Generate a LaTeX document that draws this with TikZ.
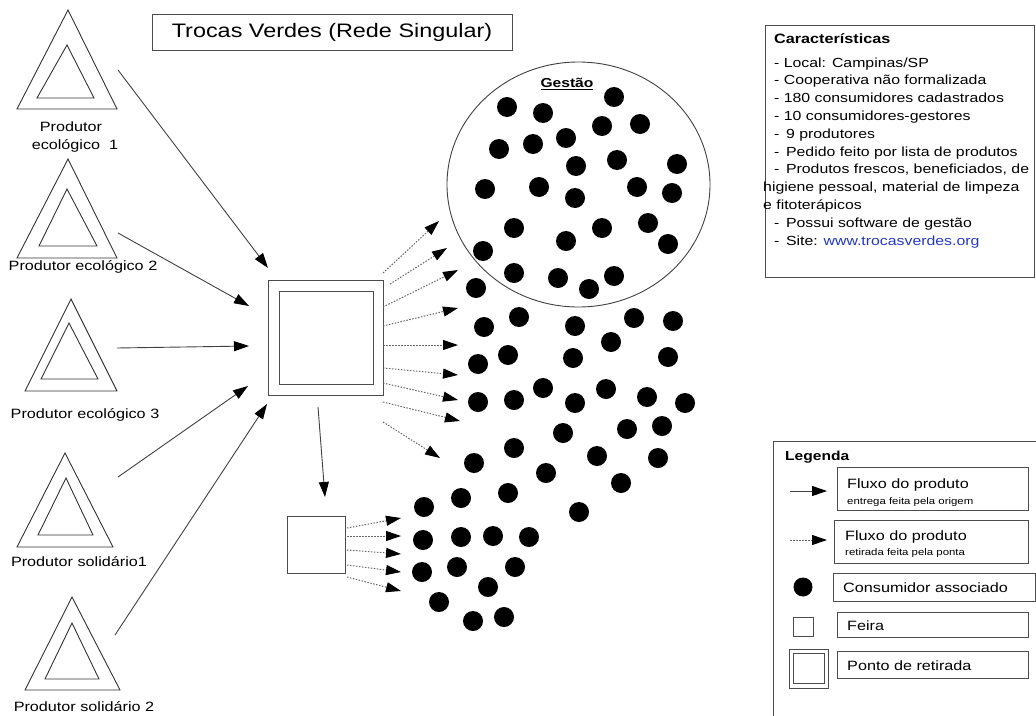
\documentclass[tikz,border=0pt]{standalone}
\usepackage{fontspec}
\setmainfont{Liberation Sans}[FakeStretch=1.2]
\usetikzlibrary{arrows.meta,shapes.geometric}
\definecolor{linkblue}{RGB}{35,55,190}
\begin{document}
\begin{tikzpicture}[x=1pt,y=-1pt,
  tri/.style={draw=black!80, line width=0.9pt, line join=miter},
  lbl/.style={font=\fontsize{13.5}{14}\selectfont, inner sep=0pt},
  ctext/.style={font=\fontsize{13.2}{14}\selectfont, inner sep=0pt, anchor=base west},
  solidarrow/.style={draw=black!75, line width=0.9pt, -{Triangle[length=15pt,width=10pt,color=black]}},
  dotarrow/.style={draw=black!60, line width=1pt, dash pattern=on 1.5pt off 1.5pt, -{Triangle[length=15pt,width=10pt,color=black]}},
  box/.style={draw=black!70, line width=0.9pt, inner sep=0pt, outer sep=0pt},
  ltext/.style={font=\fontsize{13.5}{14}\selectfont, inner sep=0pt, anchor=base west},
  lsmall/.style={font=\fontsize{9.5}{10}\selectfont, inner sep=0pt, anchor=base west}]
\useasboundingbox (0,0) rectangle (1036,715);

% ---------- producers (triangles)
\draw[tri] (68,10) -- (117,109) -- (17,109) -- cycle;
\draw[tri] (67,45) -- (94,98) -- (37,98) -- cycle;
\draw[tri] (68,159) -- (117,258) -- (17,258) -- cycle;
\draw[tri] (67,189) -- (97,246) -- (39,246) -- cycle;
\draw[tri] (71,299) -- (117,391) -- (25,391) -- cycle;
\draw[tri] (69,323) -- (98,379) -- (41,379) -- cycle;
\draw[tri] (65,453) -- (113,547) -- (17,547) -- cycle;
\draw[tri] (66,478) -- (93,535) -- (38,535) -- cycle;
\draw[tri] (72,597) -- (120,690) -- (25,690) -- cycle;
\draw[tri] (72,623) -- (99,679) -- (45,679) -- cycle;

\node (l1a) [lbl] at (71,127) {Produtor};
\node (l1b) [lbl] at (75,146) {ecológico\ \ 1};
\node (l2) [lbl] at (83,267) {Produtor ecológico 2};
\node (l3) [lbl] at (85,415) {Produtor ecológico 3};
\node (l4) [lbl] at (79,562) {Produtor solidário1};
\node (l5) [lbl] at (84,707) {Produtor solidário 2};

% ---------- title
\node (title) [box, minimum width=360, minimum height=36, font=\fontsize{19.5}{20}\selectfont] at (332,32) {Trocas Verdes (Rede Singular)};

% ---------- ponto de retirada (double square) and feira
\node (ret) [box, minimum width=115, minimum height=115] at (325.5,337.5) {};
\node (retin) [box, minimum width=94, minimum height=93] at (326,337.5) {};
\node (feira) [box, minimum width=58, minimum height=57] at (316,544.5) {};

% ---------- gestao ellipse
\node (gest) [draw=black!75, line width=0.9pt, ellipse, minimum width=263, minimum height=245, inner sep=0pt] at (578.5,184.5) {};
\node (gtitle) [font=\bfseries\fontsize{13}{13}\selectfont, inner sep=0pt] at (567,84) {\underline{Gestão}};

% ---------- consumers
\foreach \x/\y in {
  507/107,543/113,614/97,602/126,640/124,499/149,533/144,566/138,576/166,617/160,677/164,
  485/189,539/187,575/198,637/187,672/193,514/228,566/241,602/228,648/223,668/244,
  483/251,514/273,558/278,589/289,614/276,
  476/288,484/327,519/317,575/326,634/318,673/321,478/364,508/355,573/358,611/342,668/357,
  478/402,514/400,543/388,575/403,606/389,647/397,685/403,563/433,627/429,662/426,
  514/448,474/463,597/456,658/458,546/473,621/483,461/498,508/493,424/507,579/512,
  423/540,461/537,493/536,529/537,422/572,457/567,515/567,488/587,439/602,473/621,504/617}
  \fill (\x,\y) circle (10pt);

% ---------- solid arrows: producers -> ponto de retirada
\coordinate (p1s) at (118,70);  \coordinate (p1e) at (268,268);
\coordinate (p2s) at (118,233); \coordinate (p2e) at (249,306);
\coordinate (p3s) at (117,348); \coordinate (p3e) at (249,346);
\coordinate (p4s) at (118,477); \coordinate (p4e) at (248,386);
\coordinate (p5s) at (115,635); \coordinate (p5e) at (267,404);
\coordinate (ds) at (318,407);  \coordinate (de) at (325,497);
\draw[solidarrow] (p1s) -- (p1e);
\draw[solidarrow] (p2s) -- (p2e);
\draw[solidarrow] (p3s) -- (p3e);
\draw[solidarrow] (p4s) -- (p4e);
\draw[solidarrow] (p5s) -- (p5e);
\draw[solidarrow] (ds) -- (de);

% ---------- dotted arrows from ponto de retirada
\foreach \i/\sx/\sy/\ex/\ey in {1/383/273/439/221, 2/390/284/447/248, 3/383/307/458/270,
  4/383/326/458/308, 5/383/345/458/345, 6/383/368/458/375, 7/383/383/458/400,
  8/383/402/460/421, 9/383/422/440/458}{
  \coordinate (rs\i) at (\sx,\sy);
  \coordinate (re\i) at (\ex,\ey);
  \draw[dotarrow] (rs\i) -- (re\i);
}
% ---------- dotted arrows from feira
\foreach \i/\sy/\ey in {1/528/518, 2/536/536, 3/550/554, 4/565/572, 5/577/591}{
  \coordinate (fs\i) at (347,\sy);
  \coordinate (fe\i) at (401,\ey);
  \draw[dotarrow] (fs\i) -- (fe\i);
}

% ---------- caracteristicas
\node (cbox) [box, minimum width=269, minimum height=252] at (899.5,151) {};
\node (ct) [font=\bfseries\fontsize{13.5}{14}\selectfont, inner sep=0pt, anchor=base west] at (774,43) {Características};
\node (c1) [ctext] at (774,67) {- Local: Campinas/SP};
\node (c2) [ctext] at (774,84.8) {- Cooperativa não formalizada};
\node (c3) [ctext] at (774,102.6) {- 180 consumidores cadastrados};
\node (c4) [ctext] at (774,120.4) {- 10 consumidores-gestores};
\node (c5) [ctext] at (774,138.2) {-\ \,9 produtores};
\node (c6) [ctext] at (774,156) {-\ \,Pedido feito por lista de produtos};
\node (c7) [ctext] at (774,173.8) {-\ \,Produtos frescos, beneficiados, de};
\node (c8) [ctext] at (763,191.6) {higiene pessoal, material de limpeza};
\node (c9) [ctext] at (763,209.4) {e fitoterápicos};
\node (c10) [ctext] at (774,227.2) {-\ \,Possui software de gestão};
\node (c11) [ctext] at (774,245) {-\ \,Site: \textcolor{linkblue}{www.trocasverdes.org}};

% ---------- legenda
\node (lgbox) [box, minimum width=290, minimum height=300, anchor=north west] at (773,441) {};
\node (lgt) [font=\bfseries\fontsize{13}{13}\selectfont, inner sep=0pt, anchor=base west] at (785,460) {Legenda};

\coordinate (la1) at (790,491); \coordinate (lb1e) at (827,491);
\draw[solidarrow] (la1) -- (lb1e);
\node (lb1) [box, minimum width=191, minimum height=43] at (932.5,488.5) {};
\node (lt1a) [ltext] at (847,488) {Fluxo do produto};
\node (lt1b) [lsmall] at (847,504) {entrega feita pela origem};

\coordinate (la2) at (790,540); \coordinate (lb2e) at (827,540);
\draw[dotarrow] (la2) -- (lb2e);
\node (lb2) [box, minimum width=194, minimum height=43] at (931,541.5) {};
\node (lt2a) [ltext] at (845,540) {Fluxo do produto};
\node (lt2b) [lsmall] at (845,555) {retirada feita pela ponta};

\fill (803,587) circle (9.5pt);
\node (lb3) [box, minimum width=202, minimum height=28] at (934,587) {};
\node (lt3) [ltext] at (843,592) {Consumidor associado};

\node (lsq) [box, minimum width=20, minimum height=19] at (803,626.5) {};
\node (lb4) [box, minimum width=191, minimum height=25] at (932.5,624.5) {};
\node (lt4) [ltext] at (847,630) {Feira};

\node (ldq) [box, minimum width=39, minimum height=39] at (808.5,668.5) {};
\node (ldqi) [box, minimum width=31, minimum height=30] at (808.5,668) {};
\node (lb5) [box, minimum width=191, minimum height=27] at (932.5,664.5) {};
\node (lt5) [ltext] at (847,670) {Ponto de retirada};
\end{tikzpicture}
\end{document}
